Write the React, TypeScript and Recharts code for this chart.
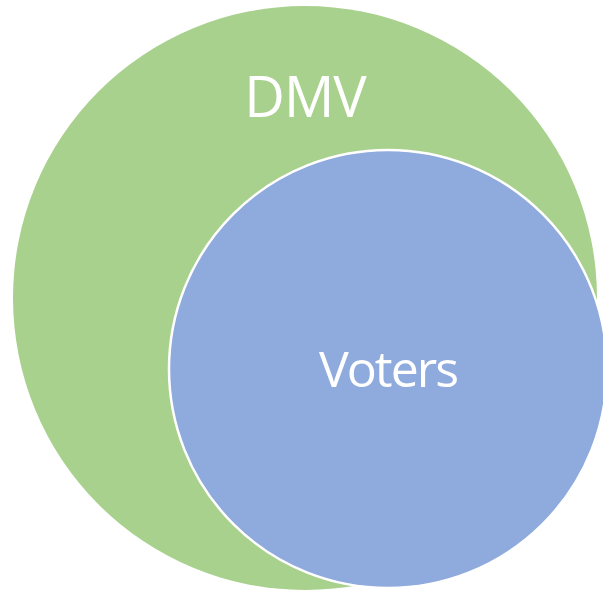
import React from 'react';
import { ScatterChart, Scatter, XAxis, YAxis, ZAxis } from 'recharts';

// set names, circle centres (page px, y down) and circle areas (px^2)
const setNames = ['DMV', 'Voters'];
const centerX = [305, 388];
const centerY = [298, 369];
const areas = [267867, 150674];

const dmvData = [{ name: setNames[0], x: centerX[0], y: centerY[0], area: areas[0] }];
const voterData = [{ name: setNames[1], x: centerX[1], y: centerY[1], area: areas[1] }];

const labelStyles: Record<string, { dy: number; fontSize: number; letterSpacing: number }> = {
  DMV: { dy: -181, fontSize: 56, letterSpacing: -1 },
  Voters: { dy: 18, fontSize: 50, letterSpacing: -2 },
};

const makeShape = (fill: string, stroke: string, strokeWidth: number) => (props: any) => {
  const { cx, cy, width, payload } = props;
  const ls = labelStyles[payload.name];
  return (
    <g>
      <circle cx={cx} cy={cy} r={width / 2} fill={fill} stroke={stroke} strokeWidth={strokeWidth} />
      <text
        x={cx}
        y={cy + ls.dy}
        textAnchor="middle"
        fill="#ffffff"
        fontFamily="'Open Sans', sans-serif"
        fontSize={ls.fontSize}
        letterSpacing={ls.letterSpacing}
      >
        {payload.name}
      </text>
    </g>
  );
};

const App: React.FC = () => {
  return (
    <div style={styles.wrap}>
      <ScatterChart width={603} height={592} margin={{ top: 0, right: 0, bottom: 0, left: 0 }}>
        <XAxis type="number" dataKey="x" domain={[0, 603]} hide />
        <YAxis type="number" dataKey="y" domain={[0, 592]} reversed hide />
        <ZAxis type="number" dataKey="area" domain={[0, 300000]} range={[0, 300000]} />
        <Scatter data={dmvData} shape={makeShape('#A9D18E', 'none', 0)} isAnimationActive={false} />
        <Scatter data={voterData} shape={makeShape('#8FAADC', '#ffffff', 2.5)} isAnimationActive={false} />
      </ScatterChart>
    </div>
  );
};

const styles = {
  wrap: {
    position: 'absolute' as const,
    left: 0,
    top: 0,
    width: 603,
    height: 592,
    background: '#ffffff',
  },
};

export default App;
